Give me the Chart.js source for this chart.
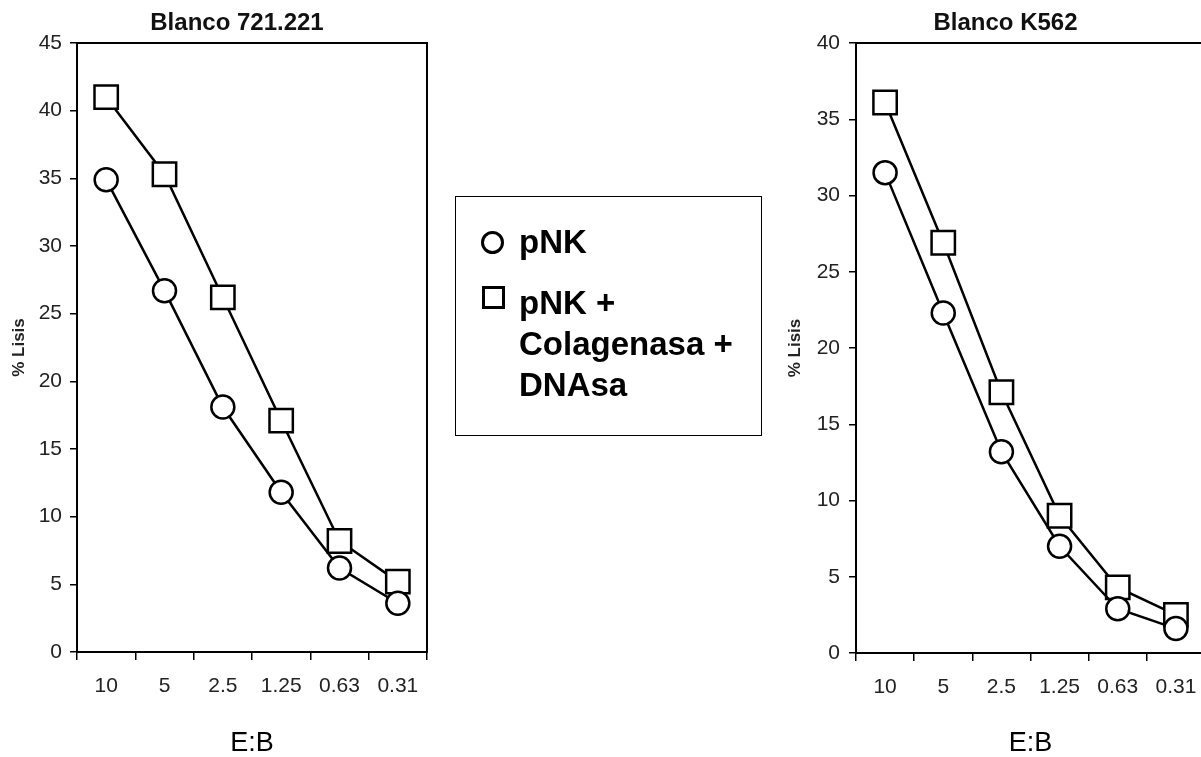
<!DOCTYPE html>
<html>
<head>
<meta charset="utf-8">
<script src="https://cdn.jsdelivr.net/npm/chart.js@4.4.0/dist/chart.umd.min.js"></script>
<style>
    html, body {
        margin: 0;
        padding: 0;
        background: #fff;
        overflow: hidden;
        width: 1201px;
        height: 757px;
    }

    #left {
        position: absolute;
        left: 0;
        top: 0;
    }

    #right {
        position: absolute;
        left: 780px;
        top: 0;
    }

    .legend-box {
        position: absolute;
        left: 455px;
        top: 196px;
        width: 307px;
        height: 240px;
        border: 1.5px solid #000;
        box-sizing: border-box;
        font-family: "Liberation Sans", Arial, sans-serif;
        font-weight: bold;
        font-size: 33px;
        line-height: 41px;
        color: #000;
    }

    .legend-box .mark {
        position: absolute;
        box-sizing: border-box;
        border: 3px solid #000;
        background: #fff;
    }

    .legend-box .circle {
        left: 25px;
        top: 34px;
        width: 23px;
        height: 23px;
        border-radius: 50%;
    }

    .legend-box .square {
        left: 26px;
        top: 89px;
        width: 23px;
        height: 23px;
    }

    .legend-box .label {
        position: absolute;
        left: 63px;
        white-space: nowrap;
    }
</style>
</head>
<body>

<canvas id="left" width="457" height="757"></canvas>
<canvas id="right" width="455" height="757"></canvas>

<div class="legend-box">
    <div class="mark circle"></div>
    <div class="label" style="top:24px">pNK</div>
    <div class="mark square"></div>
    <div class="label" style="top:85px">pNK +<br>Colagenasa +<br>DNAsa</div>
</div>

<script>
// =========================
// Data
// =========================
const ratios = ["10", "5", "2.5", "1.25", "0.63", "0.31"];

const pnk721 = [34.9, 26.7, 18.1, 11.8, 6.2, 3.6];
const pnkColDna721 = [41.0, 35.3, 26.2, 17.1, 8.2, 5.2];

const pnkK562 = [31.5, 22.3, 13.2, 7.0, 2.9, 1.6];
const pnkColDnaK562 = [36.1, 26.9, 17.1, 9.0, 4.3, 2.5];

const yMax721 = 45;
const yMaxK562 = 40;
const yStep = 5;

const FONT = '"Liberation Sans", Arial, sans-serif';


// frame round the plot area
const plotBox = {
    id: "plotBox",
    beforeDatasetsDraw(chart) {
        const { ctx, chartArea: a } = chart;
        ctx.save();
        ctx.strokeStyle = "#000";
        ctx.lineWidth = 2;
        ctx.strokeRect(a.left, a.top, a.right - a.left, a.bottom - a.top);
        ctx.restore();
    }
};

// panel title, a bit left of the plot centre like the original
const panelTitle = {
    id: "panelTitle",
    afterDraw(chart, args, opts) {
        const { ctx, chartArea: a } = chart;
        ctx.save();
        ctx.font = "bold 24px " + FONT;
        ctx.fillStyle = "#111";
        ctx.textAlign = "center";
        ctx.textBaseline = "middle";
        ctx.fillText(opts.text, (a.left + a.right) / 2 + opts.dx, 23);
        ctx.restore();
    }
};


function makePanel(canvasId, title, titleDx, circles, squares, yMax, opts) {

    return new Chart(document.getElementById(canvasId), {

        type: "line",

        data: {
            labels: ratios,
            datasets: [
                {
                    label: "pNK",
                    data: circles,
                    borderColor: "#000",
                    borderWidth: 2.5,
                    pointStyle: "circle",
                    pointRadius: 11.5,
                    pointBorderWidth: 2.5,
                    pointBorderColor: "#000",
                    pointBackgroundColor: "#fff",
                    tension: 0
                },
                {
                    label: "pNK + Colagenasa + DNAsa",
                    data: squares,
                    borderColor: "#000",
                    borderWidth: 2.5,
                    pointStyle: "rect",
                    pointRadius: 16.5,
                    pointBorderWidth: 2.5,
                    pointBorderColor: "#000",
                    pointBackgroundColor: "#fff",
                    tension: 0
                }
            ]
        },

        options: {
            responsive: false,
            animation: false,
            devicePixelRatio: 1,

            layout: {
                padding: { top: 43, right: 30, bottom: 0, left: 0 }
            },

            plugins: {
                legend: { display: false },
                tooltip: { enabled: false },
                panelTitle: { text: title, dx: titleDx }
            },

            scales: {
                x: {
                    type: "category",
                    offset: true,
                    grid: {
                        offset: true,
                        drawOnChartArea: false,
                        drawTicks: true,
                        tickLength: 8,
                        color: "#000",
                        lineWidth: 1.5
                    },
                    border: { color: "#000", width: 2 },
                    ticks: {
                        font: { family: FONT, size: 21 },
                        color: "#222",
                        padding: 14,
                        maxRotation: 0,
                        autoSkip: false
                    },
                    title: {
                        display: true,
                        text: "E:B",
                        font: { family: FONT, size: 27 },
                        color: "#000",
                        padding: { top: 0, bottom: -3 }
                    },
                    afterFit(scale) {
                        scale.height = opts.xHeight;
                    }
                },
                y: {
                    min: 0,
                    max: yMax,
                    grid: {
                        drawOnChartArea: false,
                        drawTicks: true,
                        tickLength: 7,
                        color: "#000",
                        lineWidth: 1.5
                    },
                    border: { color: "#000", width: 2 },
                    ticks: {
                        stepSize: yStep,
                        font: { family: FONT, size: 21 },
                        color: "#222",
                        padding: opts.yTickPad
                    },
                    title: {
                        display: true,
                        text: "% Lisis",
                        font: { family: FONT, size: 17, weight: "bold" },
                        color: "#222",
                        padding: { top: opts.yTitlePad, bottom: 0 }
                    },
                    afterFit(scale) {
                        scale.width = opts.yWidth;
                    }
                }
            }
        },

        plugins: [plotBox, panelTitle]
    });
}


document.addEventListener("DOMContentLoaded", function () {

    // =========================
    // Blanco 721.221
    // =========================
    makePanel("left", "Blanco 721.221", -15, pnk721, pnkColDna721, yMax721, {
        xHeight: 105,
        yWidth: 77,
        yTickPad: 8,
        yTitlePad: 9
    });

    // =========================
    // Blanco K562
    // =========================
    makePanel("right", "Blanco K562", -25, pnkK562, pnkColDnaK562, yMaxK562, {
        xHeight: 104,
        yWidth: 76,
        yTickPad: 9,
        yTitlePad: 5
    });

});
</script>
</body>
</html>
